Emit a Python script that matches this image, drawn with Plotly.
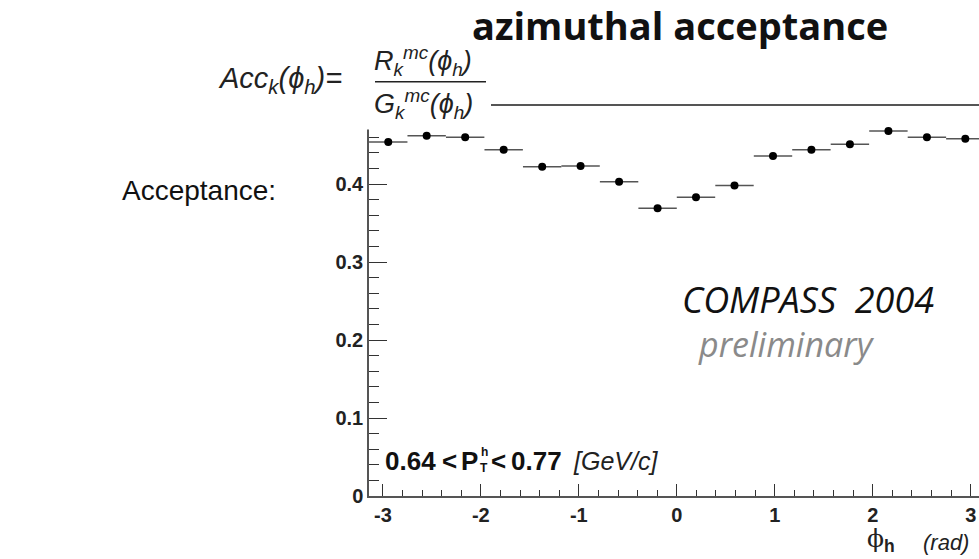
import plotly.graph_objects as go

# Acceptance per azimuthal bin (16 bins over [-pi, pi])
phi_centers = [-2.945, -2.553, -2.160, -1.767, -1.374, -0.982, -0.589, -0.196,
               0.196, 0.589, 0.982, 1.374, 1.767, 2.160, 2.553, 2.945]
acceptance = [0.454, 0.462, 0.460, 0.444, 0.422, 0.423, 0.403, 0.369,
              0.383, 0.398, 0.436, 0.444, 0.451, 0.468, 0.460, 0.458]
acc_err = [0.003] * 16
bin_half_width = [0.196] * 16

x_tick_vals = [-3, -2, -1, 0, 1, 2, 3]
x_tick_text = ["-3", "-2", "-1", "0", "1", "2", "3"]
y_tick_vals = [0, 0.1, 0.2, 0.3, 0.4]
y_tick_text = ["0", "0.1", "0.2", "0.3", "0.4"]

W, H = 979, 559
L, R, T, B = 369, 0, 106, 63
PW, PH = W - L - R, H - T - B

X_MIN = -3.14159
X_MAX = 3.0846
Y_MAX = 0.5


def px(x):
    return (x - L) / PW


def py(y):
    return (H - B - y) / PH


fig = go.Figure()
fig.add_trace(go.Scatter(
    x=phi_centers, y=acceptance, mode="markers",
    marker=dict(color="black", size=8, symbol="circle"),
    error_x=dict(type="data", array=bin_half_width, width=0, thickness=1.5, color="#555555"),
    error_y=dict(type="data", array=acc_err, width=0, thickness=1.5, color="#222222"),
    showlegend=False,
))

axis_common = dict(showgrid=False, zeroline=False, showline=True, linecolor="#555555",
                   linewidth=1.5, ticks="inside", tickcolor="#333333", tickwidth=1.3)
tick_font = dict(family="Liberation Sans", size=20, weight="bold", color="#222222")

fig.update_xaxes(range=[X_MIN, X_MAX], tickvals=x_tick_vals, ticktext=x_tick_text,
                 ticklen=12, mirror=True, tickfont=tick_font,
                 minor=dict(dtick=0.2, ticks="inside", ticklen=6, tickcolor="#333333", tickwidth=1.2),
                 **axis_common)
fig.update_yaxes(range=[0, Y_MAX], tickvals=y_tick_vals, ticktext=y_tick_text,
                 ticklen=18, tickfont=tick_font,
                 minor=dict(dtick=0.02, ticks="inside", ticklen=10, tickcolor="#333333", tickwidth=1.2),
                 **axis_common)

# white panel behind the acceptance formula
fig.add_shape(type="rect", xref="paper", yref="paper", layer="above",
              x0=px(300), x1=px(491), y0=py(40), y1=py(129.5),
              fillcolor="white", line=dict(width=0))
# fraction bar
fig.add_shape(type="line", xref="paper", yref="paper", layer="above",
              x0=px(375), x1=px(486), y0=py(81.7), y1=py(81.7),
              line=dict(color="#222222", width=1.5))


def ann(text, x, y, size, family="Liberation Sans", color="#111111", xanchor="left",
        yanchor="middle", weight="normal", style="normal"):
    fig.add_annotation(text=text, x=px(x), y=py(y), xref="paper", yref="paper",
                       xanchor=xanchor, yanchor=yanchor, showarrow=False,
                       font=dict(family=family, size=size, color=color, weight=weight, style=style))


# title
ann("azimuthal acceptance", 680, 25, 38, family="Open Sans", xanchor="center", weight="bold")
# formula
ann("Acc<sub>k</sub>(ϕ<sub>h</sub>)=", 216, 80, 29, style="italic", color="#222222")
ann("R<sub>k</sub><sup>mc</sup>(ϕ<sub>h</sub>)", 372, 61, 27, style="italic", color="#222222")
ann("G<sub>k</sub><sup>mc</sup>(ϕ<sub>h</sub>)", 372, 104, 27, style="italic", color="#222222")
ann("Acceptance:", 120, 190, 28, color="#111111")

# experiment labels
ann("COMPASS\u00a0\u00a02004", 680, 299, 36, family="Open Sans", style="italic", color="#111111")
ann("preliminary", 696, 344, 34, family="Open Sans", style="italic", color="#8a8a8a")

# kinematic range
ann("0.64", 383, 461, 26, weight="bold")
ann("&lt;", 440, 461, 26, weight="bold")
ann("P", 459, 461, 26, weight="bold")
ann("h", 484, 452, 12, weight="bold", xanchor="center")
ann("T", 484, 468, 12, weight="bold", xanchor="center")
ann("&lt;", 489, 461, 26, weight="bold")
ann("0.77", 509, 461, 26, weight="bold")
ann("[GeV/c]", 571, 461, 25, style="italic", color="#222222")

# x-axis title
ann('ϕ<sub><span style="font-family:Liberation Sans;font-weight:bold">h</span></sub>',
    881, 540, 25, family="DejaVu Serif", xanchor="center", color="#222222")
ann("(rad)", 946, 542, 22, xanchor="center", style="italic", color="#222222")

fig.update_layout(width=W, height=H, margin=dict(l=L, r=R, t=T, b=B, pad=0),
                  plot_bgcolor="white", paper_bgcolor="white")

fig.write_html("out.html")
